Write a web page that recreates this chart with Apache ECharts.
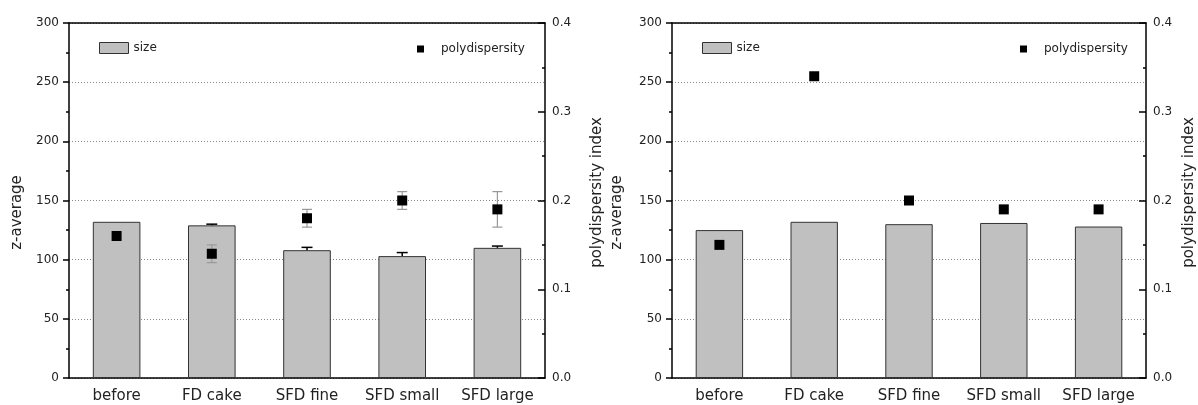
<!DOCTYPE html>
<html>
<head>
<meta charset="utf-8">
<script src="https://cdn.jsdelivr.net/npm/echarts@6/dist/echarts.min.js"></script>
<style>
html,body{margin:0;padding:0;background:#fff;}
#chart{width:1198px;height:405px;}
</style>
</head>
<body>
<div id="chart"></div>
<script>
const categories = ['before', 'FD cake', 'SFD fine', 'SFD small', 'SFD large'];
// left panel
const sizeA = [132, 129, 108, 103, 110];
const sizeErrA = [0, 1, 2.4, 3, 1.5];
const pdiA = [0.16, 0.14, 0.18, 0.20, 0.19];
const pdiErrA = [0, 0.01, 0.01, 0.01, 0.02];
// right panel
const sizeB = [125, 132, 130, 131, 128];
const pdiB = [0.15, 0.34, 0.20, 0.19, 0.19];
const yLeftTicks = [0, 50, 100, 150, 200, 250, 300];
const yRightTicks = ['0.0', '0.1', '0.2', '0.3', '0.4'];

const FONT = 'DejaVu Sans';
const chart = echarts.init(document.getElementById('chart'));

const grids = [
  { left: 69, top: 23, width: 476, height: 355 },
  { left: 672, top: 23, width: 475, height: 355 }
];

function xAxes(g) {
  const base = { type: 'category', data: categories, gridIndex: g, boundaryGap: true };
  return [
    Object.assign({}, base, {
      position: 'bottom',
      axisLine: { lineStyle: { color: '#000', width: 1.5 } },
      axisTick: { alignWithLabel: true, interval: 0, length: 7, lineStyle: { color: '#000', width: 1.5 } },
      axisLabel: { interval: 0, fontFamily: FONT, fontSize: 15, color: '#222', margin: 11 }
    }),
    Object.assign({}, base, {
      position: 'bottom',
      axisLine: { show: false },
      axisTick: { interval: 0, length: 4, lineStyle: { color: '#000', width: 1.5 } },
      axisLabel: { show: false }
    }),
    Object.assign({}, base, {
      position: 'top',
      axisLine: { lineStyle: { color: '#000', width: 1.5 } },
      axisTick: { alignWithLabel: true, interval: 0, inside: true, length: 7, lineStyle: { color: '#000', width: 1.5 } },
      axisLabel: { show: false }
    }),
    Object.assign({}, base, {
      position: 'top',
      axisLine: { show: false },
      axisTick: { interval: 0, inside: true, length: 3, lineStyle: { color: '#000', width: 1.5 } },
      axisLabel: { show: false }
    })
  ];
}

function yAxes(g, leftGap, rightGap) {
  return [
    {
      type: 'value', gridIndex: g, position: 'left', min: yLeftTicks[0], max: yLeftTicks[yLeftTicks.length - 1], interval: 50,
      name: 'z-average', nameLocation: 'middle', nameGap: leftGap,
      nameTextStyle: { fontFamily: FONT, fontSize: 15, color: '#222', padding: [0, 24, 0, 0] },
      axisLine: { show: true, lineStyle: { color: '#000', width: 1.5 } },
      axisTick: { show: true, length: 6, lineStyle: { color: '#000', width: 1.5 } },
      minorTick: { show: true, splitNumber: 2, length: 3, lineStyle: { color: '#000', width: 1.5 } },
      axisLabel: { fontFamily: FONT, fontSize: 12, color: '#222', margin: 10 },
      splitLine: { show: true, lineStyle: { type: [1, 2], color: '#888', width: 1 } }
    },
    {
      type: 'value', gridIndex: g, position: 'right', min: 0, max: 0.4, interval: 0.1,
      name: 'polydispersity index', nameLocation: 'middle', nameGap: rightGap,
      nameTextStyle: { fontFamily: FONT, fontSize: 15, color: '#222', padding: [0, 0, 0, 16] },
      axisLine: { show: true, lineStyle: { color: '#000', width: 1.5 } },
      axisTick: { show: true, inside: true, length: 7, lineStyle: { color: '#000', width: 1.5 } },
      minorTick: { show: true, splitNumber: 2, length: 3, lineStyle: { color: '#000', width: 1.5 } },
      axisLabel: { fontFamily: FONT, fontSize: 12, color: '#222', margin: 7,
        formatter: v => yRightTicks[Math.round(v * 10)] },
      splitLine: { show: false }
    }
  ];
}

function sizeErrRender(params, api) {
  const x = api.value(0), y = api.value(1), e = api.value(2);
  if (!e) return null;
  const top = api.coord([x, y + e]);
  const base = api.coord([x, y]);
  const hw = 5.5;
  return {
    type: 'group', children: [
      { type: 'line', shape: { x1: top[0], y1: top[1], x2: base[0], y2: base[1] }, style: { stroke: '#000', lineWidth: 1.5 } },
      { type: 'line', shape: { x1: top[0] - hw, y1: top[1], x2: top[0] + hw, y2: top[1] }, style: { stroke: '#000', lineWidth: 1.5 } }
    ]
  };
}
function pdiErrRender(params, api) {
  const x = api.value(0), y = api.value(1), e = api.value(2);
  if (!e) return null;
  const top = api.coord([x, y + e]);
  const bot = api.coord([x, y - e]);
  const hw = 5;
  const st = { stroke: '#999', lineWidth: 1.2 };
  return {
    type: 'group', children: [
      { type: 'line', shape: { x1: top[0], y1: top[1], x2: bot[0], y2: bot[1] }, style: st },
      { type: 'line', shape: { x1: top[0] - hw, y1: top[1], x2: top[0] + hw, y2: top[1] }, style: st },
      { type: 'line', shape: { x1: bot[0] - hw, y1: bot[1], x2: bot[0] + hw, y2: bot[1] }, style: st }
    ]
  };
}

function panelSeries(g, sizes, sizeErr, pdi, pdiErr) {
  const xi = g * 4, yi = g * 2;
  const s = [
    {
      name: 'size', type: 'bar', xAxisIndex: xi, yAxisIndex: yi, data: sizes, barWidth: '50%',
      itemStyle: { color: '#c0c0c0', borderColor: '#333', borderWidth: 1, opacity: 1 }, z: 2
    },
    {
      name: 'polydispersity', type: 'scatter', xAxisIndex: xi, yAxisIndex: yi + 1, data: pdi,
      symbol: 'rect', symbolSize: 10, itemStyle: { color: '#000', opacity: 1 }, z: 6
    }
  ];
  if (sizeErr) {
    s.push({ type: 'custom', xAxisIndex: xi, yAxisIndex: yi, z: 4, renderItem: sizeErrRender,
      data: categories.map((c, i) => [i, sizes[i], sizeErr[i]]) });
  }
  if (pdiErr) {
    s.push({ type: 'custom', xAxisIndex: xi, yAxisIndex: yi + 1, z: 5, renderItem: pdiErrRender,
      data: categories.map((c, i) => [i, pdi[i], pdiErr[i]]) });
  }
  return s;
}

function legends(sizeLeft, pdiLeft) {
  const ts = { fontFamily: FONT, fontSize: 12, color: '#222' };
  return [
    { data: [{ name: 'size', icon: 'rect' }], left: sizeLeft, top: 42, padding: 0, itemWidth: 29, itemHeight: 11,
      textStyle: ts, selectedMode: false,
      itemStyle: { color: '#c0c0c0', borderColor: '#333', borderWidth: 1 } },
    { data: [{ name: 'polydispersity', icon: 'rect' }], left: pdiLeft, top: 43, padding: 0, itemWidth: 7, itemHeight: 7,
      itemStyle: { color: '#000', opacity: 1 },
      textStyle: Object.assign({}, ts, { padding: [0, 0, 0, 12] }), selectedMode: false }
  ];
}

chart.setOption({
  animation: false,
  backgroundColor: '#fff',
  textStyle: { fontFamily: FONT },
  grid: grids,
  xAxis: xAxes(0).concat(xAxes(1)),
  yAxis: yAxes(0, 44, 45).concat(yAxes(1, 47, 36)),
  legend: legends(99, 417).concat(legends(702, 1020)),
  series: panelSeries(0, sizeA, sizeErrA, pdiA, pdiErrA).concat(panelSeries(1, sizeB, null, pdiB, null))
});
</script>
</body>
</html>
